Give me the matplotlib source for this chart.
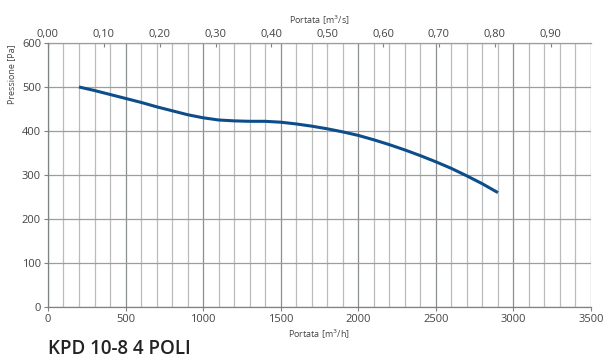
import numpy as np
import matplotlib

matplotlib.use('Agg')
import matplotlib.pyplot as plt

# fan curve
portata = [200, 300, 400, 500, 600, 700, 800, 900, 1000, 1100, 1200, 1300, 1400, 1500,
           1600, 1700, 1800, 1900, 2000, 2100, 2200, 2300, 2400, 2500, 2600, 2700, 2800, 2900]
pressione = [500, 492, 483, 474, 465, 455, 446, 437, 430, 425, 423, 422, 422, 420,
             416, 411, 405, 398, 390, 380, 369, 357, 344, 330, 315, 298, 280, 260]

x_ticks = [0, 500, 1000, 1500, 2000, 2500, 3000, 3500]
y_ticks = [0, 100, 200, 300, 400, 500, 600]
top_ticks = [0.0, 0.1, 0.2, 0.3, 0.4, 0.5, 0.6, 0.7, 0.8, 0.9]

plt.rcParams['font.family'] = ['Open Sans', 'DejaVu Sans']

fig = plt.figure(figsize=(6.08, 3.6), dpi=100)
ax = fig.add_axes([0.0789, 0.1472, 0.8931, 0.7334])

ax.plot(portata, pressione, color='#0d4e8a', lw=2.2, solid_joinstyle='round',
        solid_capstyle='butt', zorder=5)

ax.set_xlim(0, 3500)
ax.set_ylim(0, 600)
ax.set_xticks(x_ticks)
ax.set_xticks(np.arange(100, 3500, 100), minor=True)
ax.set_yticks(y_ticks)

ax.grid(True, which='major', axis='x', color='#8a8f8f', lw=0.9)
ax.grid(True, which='minor', axis='x', color='#b8bcbc', lw=0.9)
ax.grid(True, which='major', axis='y', color='#9a9e9e', lw=0.9)
ax.set_axisbelow(True)

for s in ['top', 'right']:
    ax.spines[s].set_visible(False)
for s in ['left', 'bottom']:
    ax.spines[s].set_color('#7d8282')
    ax.spines[s].set_linewidth(0.9)

ax.tick_params(axis='both', which='major', labelsize=8, labelcolor='#444444', color='#7d8282',
               length=3, width=0.8, pad=2)
ax.tick_params(axis='x', which='minor', length=0)
ax.set_xlabel('Portata [m$^3$/h]', fontsize=6.5, color='#444444', labelpad=2)
ax.set_ylabel('Pressione [Pa]', fontsize=6.5, color='#444444', labelpad=1)
ax.yaxis.set_label_coords(-0.058, 0.88)

top = ax.secondary_xaxis('top', functions=(lambda v: v / 3600, lambda v: v * 3600))
top.set_xticks(top_ticks)
top.set_xticklabels([('%.2f' % t).replace('.', ',') for t in top_ticks])
top.tick_params(labelsize=8, labelcolor='#444444', color='#7d8282', direction='in', length=3, width=0.8, pad=2)
top.spines['top'].set_color('#9a9e9e')
top.spines['top'].set_linewidth(0.9)
top.set_xlabel('Portata [m$^3$/s]', fontsize=6.5, color='#444444', labelpad=4)

fig.text(0.0789, 0.016, 'KPD 10-8 4 POLI', fontsize=13.5, fontweight='semibold', color='#222222',
         va='baseline')

plt.savefig('out.png', dpi=100)
